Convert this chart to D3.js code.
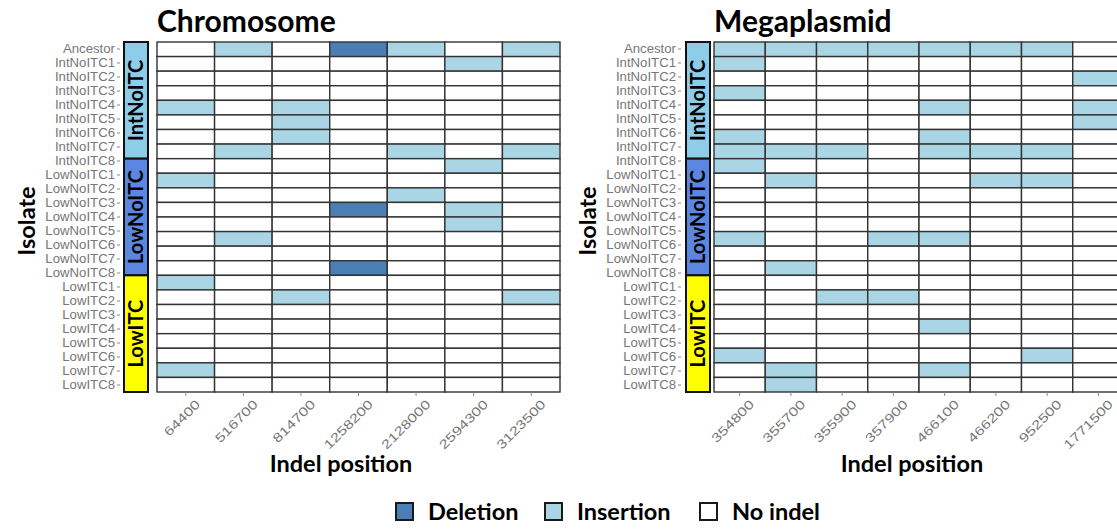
<!DOCTYPE html>
<html>
<head>
<meta charset="utf-8">
<script src="https://cdn.jsdelivr.net/npm/d3@7"></script>
<style>
body { margin: 0; background: #fff; }
svg text { font-family: "Liberation Sans", Arial, sans-serif; }
svg .heavy { font-family: Lato, "Open Sans", sans-serif; font-weight: 700; fill: #000; }
</style>
</head>
<body>
<svg width="1117" height="529"></svg>
<script>
// isolates shown on the y axis (25 labels), grid rows come in 3 strips of 8
var isolates = ["Ancestor",
    "IntNoITC1", "IntNoITC2", "IntNoITC3", "IntNoITC4", "IntNoITC5", "IntNoITC6", "IntNoITC7", "IntNoITC8",
    "LowNoITC1", "LowNoITC2", "LowNoITC3", "LowNoITC4", "LowNoITC5", "LowNoITC6", "LowNoITC7", "LowNoITC8",
    "LowITC1", "LowITC2", "LowITC3", "LowITC4", "LowITC5", "LowITC6", "LowITC7", "LowITC8"];

var groups = ["IntNoITC", "LowNoITC", "LowITC"];
var groupColors = ["#8ecdea", "#5c87e0", "#ffff00"];
var rowsPerGroup = 8;

var indelTypes = ["Deletion", "Insertion", "No indel"];
var indelColors = ["#4a7fb6", "#a9d5e5", "#ffffff"];
var codes = { "D": "Deletion", "I": "Insertion", ".": "No indel" };

// chromosome: one string per grid row, one char per position
var chromPositions = ["64400", "516700", "814700", "1258200", "2128000", "2594300", "3123500"];
var chromCalls = [
    ".I.DI.I",
    ".....I.",
    ".......",
    ".......",
    "I.I....",
    "..I....",
    "..I....",
    ".I..I.I",
    ".....I.",
    "I......",
    "....I..",
    "...D.I.",
    ".....I.",
    ".I.....",
    ".......",
    "...D...",
    "I......",
    "..I...I",
    ".......",
    ".......",
    ".......",
    ".......",
    "I......",
    "......."
];

// megaplasmid
var megaPositions = ["354800", "355700", "355900", "357900", "466100", "466200", "952500", "1771500"];
var megaCalls = [
    "IIIIIII.",
    "I.......",
    ".......I",
    "I.......",
    "....I..I",
    ".......I",
    "I...I...",
    "III.III.",
    "I.......",
    ".I...II.",
    "........",
    "........",
    "........",
    "I..II...",
    "........",
    ".I......",
    "........",
    "..II....",
    "........",
    "....I...",
    "........",
    "I.....I.",
    ".I..I...",
    ".I......"
];

var svg = d3.select("svg"),
    width = +svg.attr("width"),
    height = +svg.attr("height");

var color = d3.scaleOrdinal()
    .domain(indelTypes)
    .range(indelColors);

var stripColor = d3.scaleOrdinal()
    .domain(groups)
    .range(groupColors);

var top_ = 42, bottom_ = 392;

var panels = [
    { title: "Chromosome", positions: chromPositions, calls: chromCalls,
      tickX: 120, strip: [124, 148], grid: [157, 560], ytitleX: 27, xtitleX: 341 },
    { title: "Megaplasmid", positions: megaPositions, calls: megaCalls,
      tickX: 681, strip: [686, 710], grid: [714, 1124], ytitleX: 588, xtitleX: 912 }
];

panels.forEach(drawPanel);

function drawPanel(p) {
    var g = svg.append("g");

    var x = d3.scaleBand()
        .domain(p.positions)
        .range(p.grid);

    var y = d3.scaleBand()
        .domain(d3.range(p.calls.length))
        .range([top_, bottom_]);

    var yLab = d3.scaleBand()
        .domain(isolates)
        .range([top_, bottom_]);

    var cells = [];
    p.calls.forEach(function(row, i) {
        row.split("").forEach(function(c, j) {
            cells.push({ row: i, pos: p.positions[j], type: codes[c] });
        });
    });

    g.append("g")
        .selectAll("rect")
        .data(cells)
        .enter().append("rect")
            .attr("x", function(d) { return x(d.pos); })
            .attr("y", function(d) { return y(d.row); })
            .attr("width", x.bandwidth())
            .attr("height", y.bandwidth())
            .attr("fill", function(d) { return color(d.type); })
            .attr("stroke", "#333")
            .attr("stroke-width", 1.4);

    // y axis labels
    var ya = g.append("g")
        .attr("transform", "translate(" + p.tickX + ",0)")
        .call(d3.axisLeft(yLab).tickSize(3).tickPadding(2));
    ya.select(".domain").remove();
    ya.selectAll("line").attr("stroke", "#888");
    ya.selectAll("text")
        .attr("fill", "#767676")
        .style("font-size", "13.2px");

    // strips
    var strips = g.append("g")
        .selectAll("g")
        .data(groups)
        .enter().append("g");

    strips.append("rect")
        .attr("x", p.strip[0])
        .attr("y", function(d, i) { return y(i * rowsPerGroup); })
        .attr("width", p.strip[1] - p.strip[0])
        .attr("height", y.step() * rowsPerGroup)
        .attr("fill", function(d) { return stripColor(d); })
        .attr("stroke", "#111")
        .attr("stroke-width", 2);

    strips.append("text")
        .attr("class", "heavy")
        .attr("transform", function(d, i) {
            var cy = y(i * rowsPerGroup) + y.step() * rowsPerGroup / 2;
            var cx = (p.strip[0] + p.strip[1]) / 2;
            return "translate(" + cx + "," + cy + ") rotate(-90)";
        })
        .attr("text-anchor", "middle")
        .attr("dy", "0.36em")
        .style("font-size", "20px")
        .text(function(d) { return d; });

    // x axis
    var xa = g.append("g")
        .attr("transform", "translate(0," + bottom_ + ")")
        .call(d3.axisBottom(x).tickSize(4).tickPadding(2));
    xa.select(".domain").remove();
    xa.selectAll("line").attr("stroke", "#888");
    xa.selectAll("text")
        .attr("fill", "#767676")
        .style("font-size", "12.5px")
        .attr("text-anchor", "end")
        .attr("x", 0)
        .attr("y", 0)
        .attr("dy", "0.7em")
        .attr("transform", "translate(9,7) rotate(-45) scale(1.3,1)");

    // titles
    g.append("text")
        .attr("class", "heavy")
        .attr("x", p.grid[0])
        .attr("y", 32)
        .style("font-size", "30px")
        .text(p.title);

    g.append("text")
        .attr("class", "heavy")
        .attr("x", p.xtitleX)
        .attr("y", 472)
        .attr("text-anchor", "middle")
        .style("font-size", "23.5px")
        .text("Indel position");

    g.append("text")
        .attr("class", "heavy")
        .attr("transform", "translate(" + p.ytitleX + "," + ((top_ + bottom_) / 2 + 4) + ") rotate(-90)")
        .attr("text-anchor", "middle")
        .attr("dy", "0.36em")
        .style("font-size", "23.5px")
        .text("Isolate");
}

// legend
var legendX = d3.scaleOrdinal()
    .domain(indelTypes)
    .range([396, 545, 700]);

var legend = svg.append("g")
    .selectAll("g")
    .data(indelTypes)
    .enter().append("g")
        .attr("transform", function(d) { return "translate(" + legendX(d) + ",503)"; });

legend.append("rect")
    .attr("width", 17)
    .attr("height", 17)
    .attr("fill", function(d) { return color(d); })
    .attr("stroke", "#1a1a1a")
    .attr("stroke-width", 2);

legend.append("text")
    .attr("class", "heavy")
    .attr("x", 32)
    .attr("y", 9)
    .attr("dy", "0.36em")
    .style("font-size", "23.5px")
    .text(function(d) { return d; });
</script>
</body>
</html>
